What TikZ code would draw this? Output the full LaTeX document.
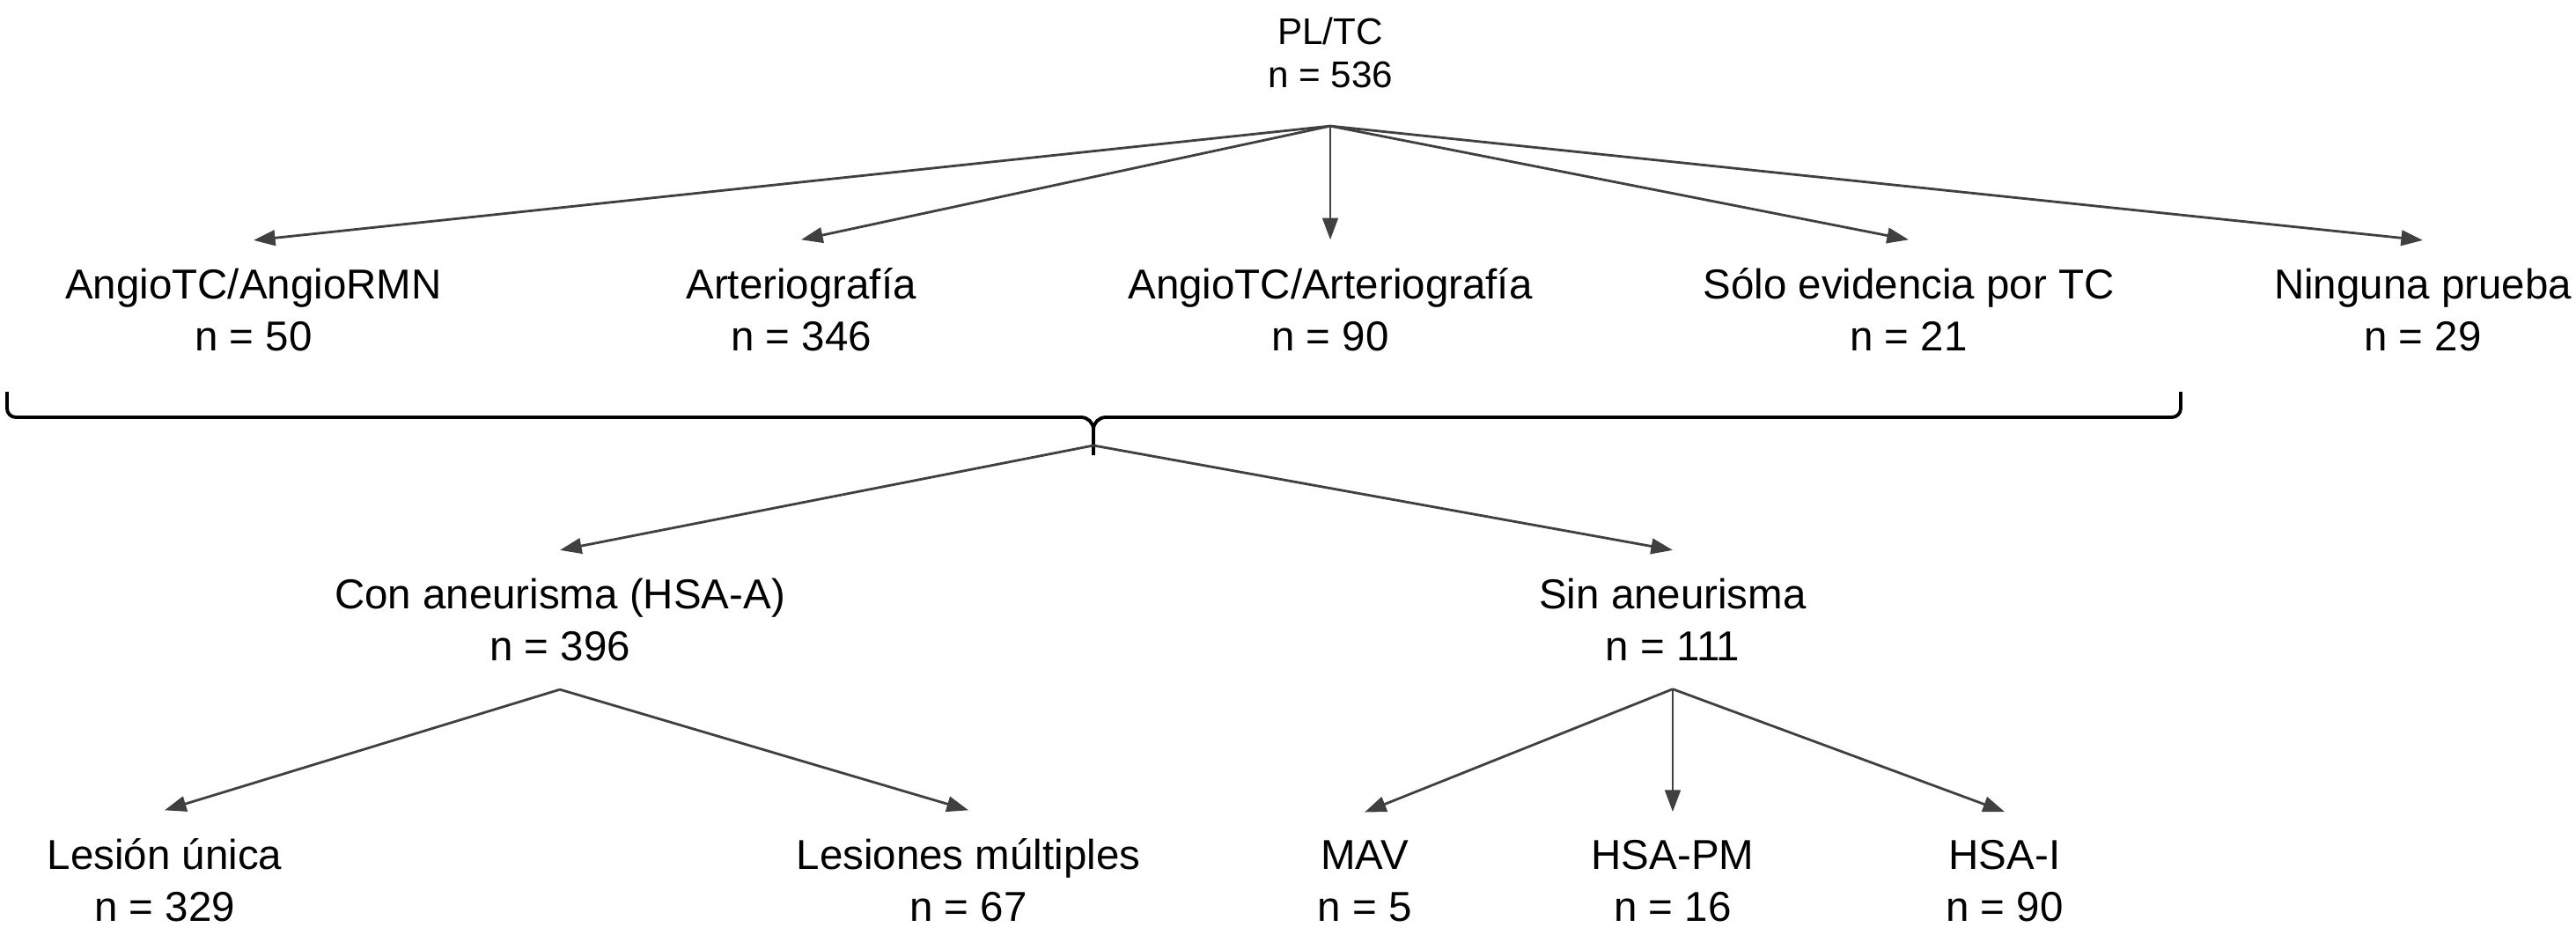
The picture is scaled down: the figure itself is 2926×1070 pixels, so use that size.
\documentclass[tikz,border=0pt]{standalone}
\usepackage{fontspec}
\setmainfont{Liberation Sans}
\usetikzlibrary{arrows.meta}
\begin{document}
\begin{tikzpicture}[x=0.01cm, y=-0.01cm, >={Triangle[length=7pt,width=5pt]},
  lbl/.style={align=center, anchor=base, inner xsep=0pt, inner ysep=0.32cm, font=\fontsize{13.5}{16.5}\selectfont},
  conn/.style={->, draw=black!75, line width=0.8pt}]
\useasboundingbox (0,0) rectangle (2926,1070);

\node[lbl, inner ysep=0.42cm, font=\fontsize{12}{14.2}\selectfont] (pltc) at (1511,100) {PL/TC\\n = 536};

\node[lbl] (angrmn) at (288,398) {AngioTC/AngioRMN\\n = 50};
\node[lbl] (arter) at (910,398) {Arteriografía\\n = 346};
\node[lbl] (angart) at (1511,398) {AngioTC/Arteriografía\\n = 90};
\node[lbl] (solotc) at (2168,398) {Sólo evidencia por TC\\n = 21};
\node[lbl] (ninguna) at (2752,398) {Ninguna prueba\\n = 29};

\node[lbl] (conan) at (636,750) {Con aneurisma (HSA-A)\\n = 396};
\node[lbl] (sinan) at (1900,750) {Sin aneurisma\\n = 111};

\node[lbl] (unica) at (187,1046) {Lesión única\\n = 329};
\node[lbl] (multi) at (1100,1046) {Lesiones múltiples\\n = 67};
\node[lbl] (mav) at (1550,1046) {MAV\\n = 5};
\node[lbl] (hsapm) at (1900,1046) {HSA-PM\\n = 16};
\node[lbl] (hsai) at (2277,1046) {HSA-I\\n = 90};

\draw[conn] (pltc.south) -- (angrmn.north);
\draw[conn] (pltc.south) -- (arter.north);
\draw[conn] (pltc.south) -- (angart.north);
\draw[conn] (pltc.south) -- (solotc.north);
\draw[conn] (pltc.south) -- (ninguna.north);

\draw[line width=1.1pt] (8,445) -- (8,464) to[out=-90,in=180] (18,474) -- (1228,474) to[out=0,in=90] (1242,488) -- (1242,517);
\draw[line width=1.1pt] (2477,445) -- (2477,464) to[out=-90,in=0] (2467,474) -- (1256,474) to[out=180,in=90] (1242,488);
\coordinate (brtip) at (1242,506);

\draw[conn] (brtip) -- (conan.north);
\draw[conn] (brtip) -- (sinan.north);

\draw[conn] (conan.south) -- (unica.north);
\draw[conn] (conan.south) -- (multi.north);
\draw[conn] (sinan.south) -- (mav.north);
\draw[conn] (sinan.south) -- (hsapm.north);
\draw[conn] (sinan.south) -- (hsai.north);
\end{tikzpicture}
\end{document}
